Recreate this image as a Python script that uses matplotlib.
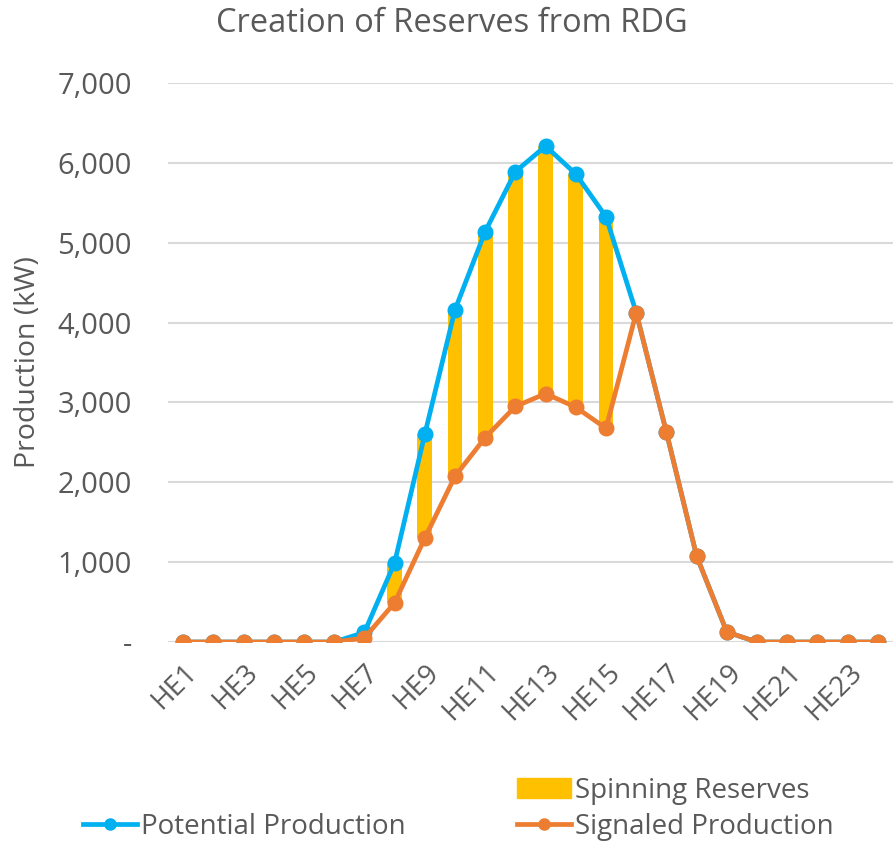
import matplotlib
matplotlib.use("Agg")
import matplotlib.pyplot as plt
import numpy as np
from matplotlib.lines import Line2D
from matplotlib.patches import Patch

hours = [f"HE{i}" for i in range(1, 25)]
potential = [0, 0, 0, 0, 0, 0, 120, 990, 2600, 4160, 5140, 5890, 6210, 5860, 5325, 4125,
             2625, 1075, 125, 0, 0, 0, 0, 0]
signaled = [0, 0, 0, 0, 0, 0, 50, 490, 1300, 2075, 2560, 2950, 3110, 2940, 2675, 4125,
            2625, 1075, 125, 0, 0, 0, 0, 0]
reserves = [p - s for p, s in zip(potential, signaled)]
yticks = [0, 1000, 2000, 3000, 4000, 5000, 6000, 7000]
ytick_labels = ["-", "1,000", "2,000", "3,000", "4,000", "5,000", "6,000", "7,000"]

FONT = ["Open Sans", "DejaVu Sans"]
TXT = "#595959"
BLUE = "#00B0F0"
ORANGE = "#ED7D31"
GOLD = "#FFC000"

fig = plt.figure(figsize=(8.93, 8.46), dpi=100)
ax = fig.add_axes([168/893, 1 - 642/846, (893-168)/893, (642-83)/846])

x = np.arange(len(hours))
ax.bar(x, signaled, width=0.49, color="none")
ax.bar(x, reserves, width=0.49, bottom=signaled, color=GOLD, zorder=2)
ax.plot(x, potential, color=BLUE, lw=3.4, marker="o", ms=10.5, zorder=3)
ax.plot(x, signaled, color=ORANGE, lw=3.4, marker="o", ms=10.5, zorder=4)

ax.set_xlim(-0.5, 23.5)
ax.set_ylim(0, 7000)
ax.set_yticks(yticks)
ax.set_yticklabels(ytick_labels, fontsize=21, color=TXT, family=FONT)
ax.set_xticks(x[::2])
ax.set_xticklabels(hours[::2], fontsize=20, color=TXT, family=FONT, rotation=45,
                   ha="right", va="top", rotation_mode="anchor")
ax.tick_params(length=0)
ax.tick_params(axis="y", pad=26)
ax.tick_params(axis="x", pad=12)
for s in ax.spines.values():
    s.set_visible(False)
ax.grid(axis="y", color="#D9D9D9", lw=1.5, zorder=0)
ax.set_axisbelow(True)
ax.set_ylabel("Production (kW)", fontsize=20.5, color=TXT, family=FONT)
ax.yaxis.set_label_coords(-126/725, 0.5)

fig.text(452/893, 1 - 24/846, "Creation of Reserves from RDG", fontsize=23.5, color=TXT,
         family=FONT, ha="center", va="center")

handles = [Line2D([], [], color="none"),
           Line2D([], [], color=BLUE, lw=3.4, marker="o", ms=8),
           Patch(color=GOLD),
           Line2D([], [], color=ORANGE, lw=3.4, marker="o", ms=8)]
labels = ["", "Potential Production", "Spinning Reserves", "Signaled Production"]
leg = fig.legend(handles, labels, ncol=2, loc="lower left", bbox_to_anchor=(83/893, 0.006),
                 frameon=False, prop={"family": FONT, "size": 20}, handlelength=1.95,
                 handletextpad=0.15, columnspacing=4.0, labelspacing=0.3,
                 borderpad=0, borderaxespad=0)
for t in leg.get_texts():
    t.set_color(TXT)

fig.savefig("out.png", dpi=100)
